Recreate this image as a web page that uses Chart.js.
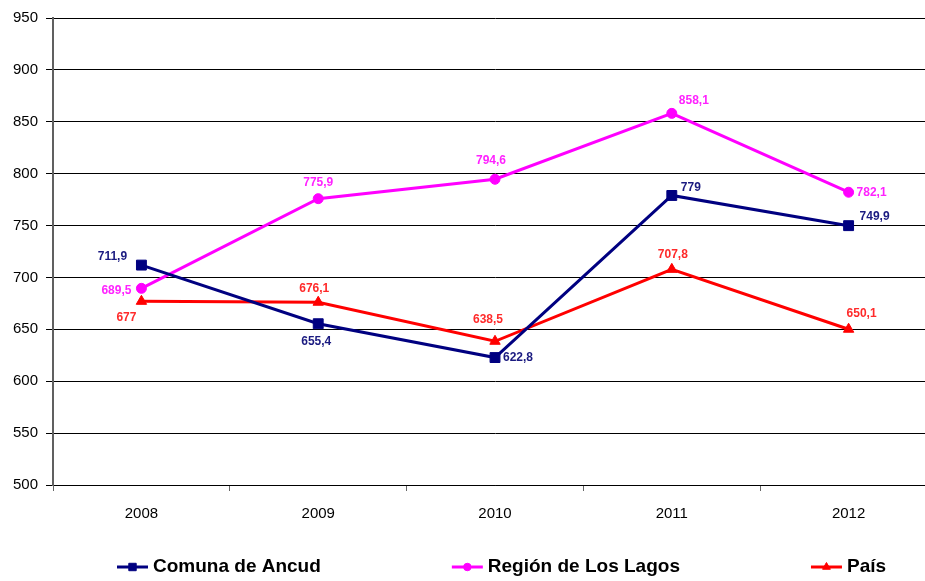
<!DOCTYPE html>
<html>
<head>
<meta charset="utf-8">
<script src="https://cdn.jsdelivr.net/npm/chart.js@4"></script>
<style>
  html, body { margin: 0; padding: 0; background: #fff; overflow: hidden; }
  #wrap { width: 945px; height: 581px; }
</style>
</head>
<body>
<div id="wrap"><canvas id="grafico"></canvas></div>
<script>
// Años
const anios = ["2008", "2009", "2010", "2011", "2012"];

// Series
const comunaAncud = [711.9, 655.4, 622.8, 779, 749.9];
const regionLosLagos = [689.5, 775.9, 794.6, 858.1, 782.1];
const pais = [677, 676.1, 638.5, 707.8, 650.1];

// Eje Y
const yMin = 500, yMax = 950, yPaso = 50;

// Desplazamiento de etiquetas (dx, dy) por punto
const despComuna = [[-29, -8], [-2, 18], [23, 0], [19, -8], [26, -9]];
const despRegion = [[-25, 2], [0, -16], [-4, -19], [22, -13], [23, 0]];
const despPais = [[-15, 16], [-4, -14], [-7, -22], [1, -15], [13, -16]];

const fuente = "'Liberation Sans', Arial, sans-serif";

// Etiquetas de datos con coma decimal
const etiquetasPlugin = {
  id: "etiquetas",
  afterDatasetsDraw(chart) {
    const ctx = chart.ctx;
    ctx.save();
    ctx.font = "bold 12px " + fuente;
    ctx.textAlign = "center";
    ctx.textBaseline = "middle";
    chart.data.datasets.forEach((ds, i) => {
      const meta = chart.getDatasetMeta(i);
      ctx.fillStyle = ds.labelColor;
      meta.data.forEach((pt, j) => {
        const d = ds.desp[j];
        ctx.fillText(String(ds.data[j]).replace(".", ","), pt.x + d[0], pt.y + d[1]);
      });
    });
    ctx.restore();
  }
};

// Leyenda inferior con línea y marcador
const leyendaPlugin = {
  id: "leyenda",
  afterDraw(chart) {
    const ctx = chart.ctx;
    const separacion = 131;
    const largoLinea = 31;
    const hueco = 5;
    ctx.save();
    ctx.font = "bold 19px " + fuente;
    ctx.textBaseline = "middle";
    const items = chart.data.datasets.map(ds => ({
      ds, w: largoLinea + hueco + ctx.measureText(ds.label).width
    }));
    let x = 117;
    const y = 567;
    items.forEach(it => {
      const ds = it.ds;
      ctx.strokeStyle = ds.borderColor;
      ctx.fillStyle = ds.borderColor;
      ctx.lineWidth = 3;
      ctx.beginPath();
      ctx.moveTo(x, y);
      ctx.lineTo(x + largoLinea, y);
      ctx.stroke();
      ctx.lineWidth = 1;
      Chart.helpers.drawPoint(ctx, {
        pointStyle: ds.pointStyle, radius: ds.pointRadius * 0.75, borderWidth: 1, rotation: 0
      }, x + largoLinea / 2, y);
      ctx.fillStyle = "#000";
      ctx.fillText(ds.label, x + largoLinea + hueco, y);
      x += it.w + separacion;
    });
    ctx.restore();
  }
};

new Chart(document.getElementById("grafico"), {
  type: "line",
  data: {
    labels: anios,
    datasets: [
      {
        label: "Comuna de Ancud",
        data: comunaAncud,
        borderColor: "#000080",
        backgroundColor: "#000080",
        labelColor: "#1a1a80",
        pointStyle: "rect",
        pointRadius: 7,
        desp: despComuna
      },
      {
        label: "Región de Los Lagos",
        data: regionLosLagos,
        borderColor: "#ff00ff",
        backgroundColor: "#ff00ff",
        labelColor: "#ff22ff",
        pointStyle: "circle",
        pointRadius: 5,
        desp: despRegion
      },
      {
        label: "País",
        data: pais,
        borderColor: "#ff0000",
        backgroundColor: "#ff0000",
        labelColor: "#ff2a2a",
        pointStyle: "triangle",
        pointRadius: 6,
        desp: despPais
      }
    ]
  },
  options: {
    responsive: true,
    maintainAspectRatio: false,
    animation: false,
    layout: { padding: { top: 18, right: 5, bottom: 44, left: 5 } },
    elements: {
      line: { borderWidth: 3, tension: 0 },
      point: { borderWidth: 1, hoverRadius: 6 }
    },
    scales: {
      x: {
        offset: true,
        grid: {
          offset: true,
          drawOnChartArea: false,
          drawTicks: true,
          tickLength: 6,
          color: "#666"
        },
        border: { display: true, color: "#000", width: 1 },
        ticks: { color: "#000", padding: 14, font: { family: fuente, size: 15 } }
      },
      y: {
        min: yMin,
        max: yMax,
        ticks: { stepSize: yPaso, color: "#000", padding: 8, font: { family: fuente, size: 15 } },
        grid: { color: "#000", lineWidth: 1, tickLength: 7 },
        border: { display: true, color: "#606060", width: 2 }
      }
    },
    plugins: {
      legend: { display: false },
      title: { display: false },
      tooltip: { enabled: false }
    }
  },
  plugins: [etiquetasPlugin, leyendaPlugin]
});
</script>
</body>
</html>
